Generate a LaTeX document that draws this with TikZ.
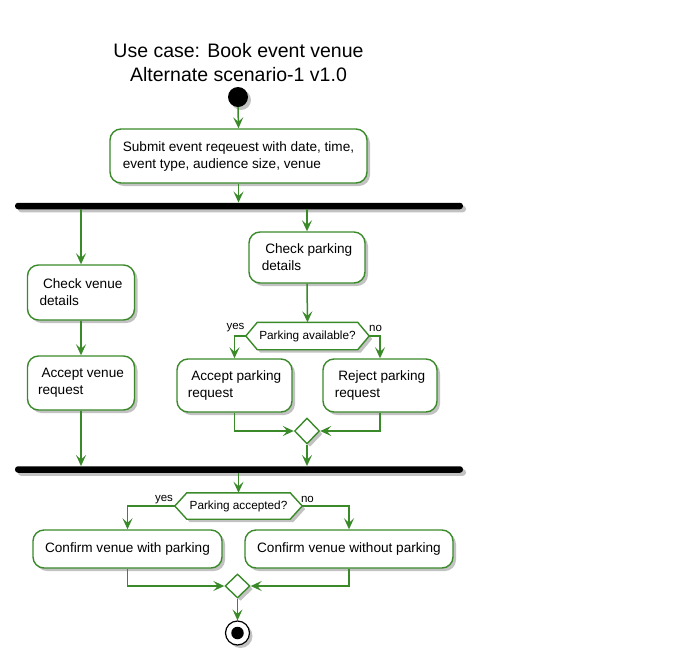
\documentclass[tikz,border=0pt]{standalone}
\usepackage{fontspec}
\setmainfont{Liberation Sans}
\usetikzlibrary{arrows.meta,shapes.geometric,shadows,backgrounds}
\definecolor{pgreen}{RGB}{58,138,42}
\tikzset{
  shad/.style={drop shadow={opacity=0.4,shadow xshift=3pt,shadow yshift=-3pt,fill=black!60}},
  act/.style={draw=pgreen,line width=1.4pt,fill=white,rounded corners=11pt,inner sep=0pt,
    align=left,font=\fontsize{13.6}{17}\selectfont,shad},
  bar/.style={fill=black,rounded corners=3pt,inner sep=0pt,minimum height=6.5pt,minimum width=448pt,shad},
  dtext/.style={inner sep=0pt,font=\fontsize{11.8}{14}\selectfont},
  hexa/.style={draw=pgreen,line width=1.4pt,fill=white,shad},
  merge/.style={diamond,draw=pgreen,line width=1.4pt,fill=white,inner sep=0pt,shad},
  lbl/.style={inner sep=0pt,font=\fontsize{11.5}{13}\selectfont},
  conn/.style={draw=pgreen,line width=1.5pt,-{Stealth[length=11pt,width=10pt,inset=4.5pt]}},
}
\begin{document}
\begin{tikzpicture}[x=1pt,y=-1pt]
\useasboundingbox (0,0) rectangle (673,665);
% title
\node[font=\fontsize{19.5}{24}\selectfont,align=center,inner sep=0pt] (title) at (238.5,63)
  {Use case: Book event venue\\Alternate scenario-1 v1.0};
% start
\node[circle,fill=black,minimum size=20pt,inner sep=0pt,shad] (start) at (238,97) {};
\node[act,minimum width=257pt,minimum height=54pt] (submit) at (238.5,156)
  {Submit event reqeuest with date, time,\\event type, audience size, venue};
\node[bar] (bar1) at (239,206) {};
% left branch
\node[act,minimum width=107pt,minimum height=55pt] (cv) at (81,292.5)
  {\hspace{3.5pt}Check venue\\details};
\node[act,minimum width=107pt,minimum height=54pt] (av) at (81,383)
  {\hspace{3.5pt}Accept venue\\request};
% right branch
\node[act,minimum width=116pt,minimum height=51pt] (cp) at (307,257.5)
  {\hspace{3.5pt}Check parking\\details};
\node[dtext,minimum width=123pt,minimum height=27pt] (d1) at (307.5,336) {Parking available?};
\node[act,minimum width=115pt,minimum height=53pt] (ap) at (234.5,385.5)
  {\hspace{3.5pt}Accept parking\\request};
\node[act,minimum width=114pt,minimum height=53pt] (rp) at (380,385.5)
  {\hspace{3.5pt}Reject parking\\request};
\node[merge,minimum width=25pt,minimum height=26pt] (m1) at (307,431) {};
\node[bar] (bar2) at (239,469.5) {};
\node[dtext,minimum width=127pt,minimum height=26pt] (d2) at (238.5,506) {Parking accepted?};
\node[act,minimum width=189pt,minimum height=38pt,align=center] (cw) at (127.5,549)
  {Confirm venue with parking};
\node[act,minimum width=208pt,minimum height=38pt,align=center] (cwo) at (349,549)
  {Confirm venue without parking};
\node[merge,minimum width=25pt,minimum height=24pt] (m2) at (237.5,586) {};
\node[circle,draw=black,line width=1.2pt,fill=white,minimum size=24pt,inner sep=0pt,shad] (end) at (237.5,633) {};
\node[circle,fill=black,minimum size=12.5pt,inner sep=0pt] (endin) at (end.center) {};
% hexagons behind the decision texts
\begin{scope}[on background layer]
\path[hexa] ([xshift=11.5pt]d1.north west) -- ([xshift=-11.5pt]d1.north east) -- (d1.east)
  -- ([xshift=-11.5pt]d1.south east) -- ([xshift=11.5pt]d1.south west) -- (d1.west) -- cycle;
\path[hexa] ([xshift=12pt]d2.north west) -- ([xshift=-12pt]d2.north east) -- (d2.east)
  -- ([xshift=-12pt]d2.south east) -- ([xshift=12pt]d2.south west) -- (d2.west) -- cycle;
\end{scope}
% labels
\node[lbl] (y1) at (235.5,328) {yes};
\node[lbl] (n1) at (375.5,328) {no};
\node[lbl] (y2) at (164,499.5) {yes};
\node[lbl] (n2) at (307.5,499.5) {no};
% connectors
\draw[conn] (start.south) -- (submit.north);
\draw[conn] (submit.south) -- (submit.south |- bar1.north);
\draw[conn] (cv.north |- bar1.south) -- (cv.north);
\draw[conn] (cp.north |- bar1.south) -- (cp.north);
\draw[conn] (cv.south) -- (av.north);
\draw[conn] (av.south) -- (av.south |- bar2.north);
\draw[conn] (cp.south) -- (d1.north);
\draw[conn] (d1.west) -| (ap.north);
\draw[conn] (d1.east) -| (rp.north);
\draw[conn] (ap.south) |- (m1.west);
\draw[conn] (rp.south) |- (m1.east);
\draw[conn] (m1.south) -- (m1.south |- bar2.north);
\draw[conn] (d2.north |- bar2.south) -- (d2.north);
\draw[conn] (d2.west) -| (cw.north);
\draw[conn] (d2.east) -| (cwo.north);
\draw[conn] (cw.south) |- (m2.west);
\draw[conn] (cwo.south) |- (m2.east);
\draw[conn] (m2.south) -- (end.north);
\end{tikzpicture}
\end{document}
